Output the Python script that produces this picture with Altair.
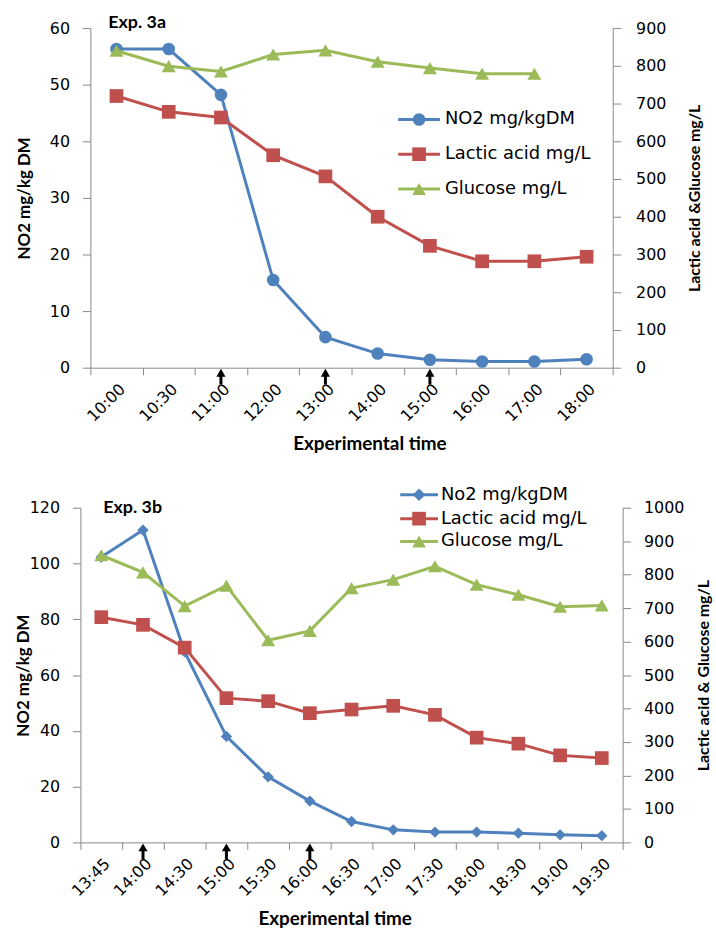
import altair as alt
import pandas as pd

# ---------------- data ----------------
top_times = ["10:00", "10:30", "11:00", "12:00", "13:00", "14:00", "15:00", "16:00", "17:00", "18:00"]
top_no2 = [56.3, 56.3, 48.2, 15.5, 5.4, 2.5, 1.4, 1.1, 1.1, 1.5]
top_lactic = [720, 678, 663, 563, 507, 400, 323, 282, 282, 294]
top_glucose = [840, 799, 785, 830, 841, 811, 794, 779, 779, None]
top_arrows = ["11:00", "13:00", "15:00"]

bot_times = ["13:45", "14:00", "14:30", "15:00", "15:30", "16:00", "16:30", "17:00", "17:30",
             "18:00", "18:30", "19:00", "19:30"]
bot_no2 = [102.3, 112, 68.3, 38, 23.5, 14.8, 7.5, 4.5, 3.7, 3.7, 3.3, 2.7, 2.4]
bot_lactic = [673, 650, 582, 431, 422, 386, 397, 408, 381, 313, 295, 260, 252]
bot_glucose = [858, 807, 706, 767, 604, 632, 760, 785, 825, 770, 740, 704, 708]
bot_arrows = ["14:00", "15:00", "16:00"]

top_legend = ["NO2 mg/kgDM", " Lactic acid mg/L", "Glucose mg/L"]
bot_legend = ["No2 mg/kgDM", " Lactic acid mg/L", "Glucose mg/L"]

BLUE = "#4F81BD"
RED = "#C0504D"
GREEN = "#9BBB59"
GRAY = "#888888"
TICK_FONT = "DejaVu Sans"
TITLE_FONT = "Lato"


def panel(times, no2, lactic, glucose, arrows, legend_labels, no2_shape,
          w, h, ldom, lvals, rdom, rvals, title_text, title_xy,
          ltitle_x, rtitle, rtitle_x, rlabel_pad, xtitle_xy, leg):
    df = pd.DataFrame({"time": times, "NO2": no2, "Lactic": lactic, "Glucose": glucose})

    xaxis = alt.Axis(
        title="Experimental time", tickBand="extent", labelAngle=-45, grid=False,
        domainColor=GRAY, tickColor=GRAY, tickSize=7, labelFont=TICK_FONT,
        labelFontSize=16, labelColor="black", labelPadding=6,
        titleFont=TITLE_FONT, titleFontSize=19, titleFontWeight="bold", titleColor="black",
        titleX=xtitle_xy[0], titleY=xtitle_xy[1], titleAlign="center", titleBaseline="middle",
    )

    def xenc():
        return alt.X("time:N", sort=times, bandPosition=0.5, axis=xaxis,
                     scale=alt.Scale(type="band", paddingInner=0, paddingOuter=0))

    lyaxis = alt.Axis(
        title="NO2 mg/kg DM", values=lvals, format="d", grid=False, domainColor=GRAY,
        tickColor=GRAY, tickSize=8, labelFont=TICK_FONT, labelFontSize=16, labelColor="black",
        labelPadding=13, titleFont=TITLE_FONT, titleFontSize=17, titleFontWeight="bold",
        titleColor="black", titleAngle=270, titleX=ltitle_x, titleY=h / 2, titleAlign="center",
        titleBaseline="middle",
    )
    ryaxis = alt.Axis(
        title=rtitle, orient="right", values=rvals, format="d", grid=False, domainColor=GRAY,
        tickColor=GRAY, tickSize=8, labelFont=TICK_FONT, labelFontSize=16, labelColor="black",
        labelPadding=rlabel_pad, titleFont=TITLE_FONT, titleFontSize=16, titleFontWeight="bold",
        titleColor="black", titleAngle=270, titleX=rtitle_x, titleY=h / 2, titleAlign="center",
        titleBaseline="middle",
    )

    base_left = alt.Chart(df).encode(
        x=xenc(),
        y=alt.Y("NO2:Q", scale=alt.Scale(domain=ldom, nice=False), axis=lyaxis),
    )
    no2_line = base_left.mark_line(color=BLUE, strokeWidth=3)
    no2_pts = base_left.mark_point(color=BLUE, filled=True, opacity=1, shape=no2_shape,
                                   size=160 if no2_shape == "circle" else 130)
    left = alt.layer(no2_line, no2_pts)

    series_scale = dict(domain=["Lactic", "Glucose"])
    base_right = alt.Chart(df).transform_fold(
        ["Lactic", "Glucose"], as_=["series", "value"]
    ).transform_filter("isValid(datum.value)").encode(
        x=xenc(),
        y=alt.Y("value:Q", scale=alt.Scale(domain=rdom, nice=False), axis=ryaxis),
        color=alt.Color("series:N", scale=alt.Scale(range=[RED, GREEN], **series_scale), legend=None),
    )
    r_line = base_right.mark_line(strokeWidth=3).encode(detail="series:N")
    r_pts = base_right.mark_point(filled=True, opacity=1).encode(
        shape=alt.Shape("series:N", scale=alt.Scale(range=["square", "triangle-up"], **series_scale),
                        legend=None),
        size=alt.Size("series:N", scale=alt.Scale(range=[190, 200], **series_scale), legend=None),
    )
    right = alt.layer(r_line, r_pts)

    arr_df = pd.DataFrame({"time": arrows})
    arr_shaft = alt.Chart(arr_df).mark_rule(color="black", strokeWidth=3).encode(
        x=xenc(), y=alt.value(h + 7), y2=alt.value(h + 17))
    arr_head = alt.Chart(arr_df).mark_point(color="black", filled=True, opacity=1,
                                            shape="triangle-up", size=85).encode(
        x=xenc(), y=alt.value(h + 5))

    # legend drawn inside the plot
    lx1, lx2, lm, lt, lys = leg
    colors = [BLUE, RED, GREEN]
    shapes = [no2_shape, "square", "triangle-up"]
    leg_layers = []
    for i, lab in enumerate(legend_labels):
        d = alt.Data(values=[{"label": lab}])
        leg_layers.append(alt.Chart(d).mark_rule(color=colors[i], strokeWidth=3).encode(
            x=alt.value(lx1), x2=alt.value(lx2), y=alt.value(lys[i])))
        leg_layers.append(alt.Chart(d).mark_point(color=colors[i], filled=True, opacity=1,
                                                  shape=shapes[i],
                                                  size=160 if i == 0 else 190).encode(
            x=alt.value(lm), y=alt.value(lys[i])))
        leg_layers.append(alt.Chart(d).mark_text(align="left", baseline="middle", font=TICK_FONT,
                                                 fontSize=18, color="black").encode(
            x=alt.value(lt), y=alt.value(lys[i]), text="label:N"))

    title = alt.Chart(alt.Data(values=[{"t": title_text}])).mark_text(
        align="left", baseline="middle", font=TITLE_FONT, fontSize=18, fontWeight="bold",
        color="black").encode(x=alt.value(title_xy[0]), y=alt.value(title_xy[1]), text="t:N")

    return alt.layer(left, right, arr_shaft, arr_head, *leg_layers, title).resolve_scale(
        y="independent", color="independent", shape="independent", size="independent"
    ).properties(width=w, height=h)


top = panel(top_times, top_no2, top_lactic, top_glucose, top_arrows, top_legend, "circle",
            526, 342, [0, 60], [0, 10, 20, 30, 40, 50, 60], [0, 900],
            [0, 100, 200, 300, 400, 500, 600, 700, 800, 900],
            "Exp. 3a", (18, -5), -66, "Lactic acid &Glucose mg/L", 82, 15, (281, 76),
            (310, 352, 331, 357, [92, 127, 162]))

bottom = panel(bot_times, bot_no2, bot_lactic, bot_glucose, bot_arrows, bot_legend, "diamond",
               546, 337, [0, 120], [0, 20, 40, 60, 80, 100, 120], [0, 1000],
               [0, 100, 200, 300, 400, 500, 600, 700, 800, 900, 1000],
               "Exp. 3b", (23, 0), -57, "Lactic acid & Glucose mg/L", 81, 13, (256, 77),
               (322, 360, 341, 363, [-13, 11, 34]))

chart = alt.vconcat(top, bottom, spacing=141, center=True, bounds="flush").properties(
    padding={"left": 15, "top": 11, "right": 5, "bottom": 5},
    background="white",
).configure_view(stroke=None)

chart.save("out.html", embed_options={"renderer": "svg", "actions": False})
